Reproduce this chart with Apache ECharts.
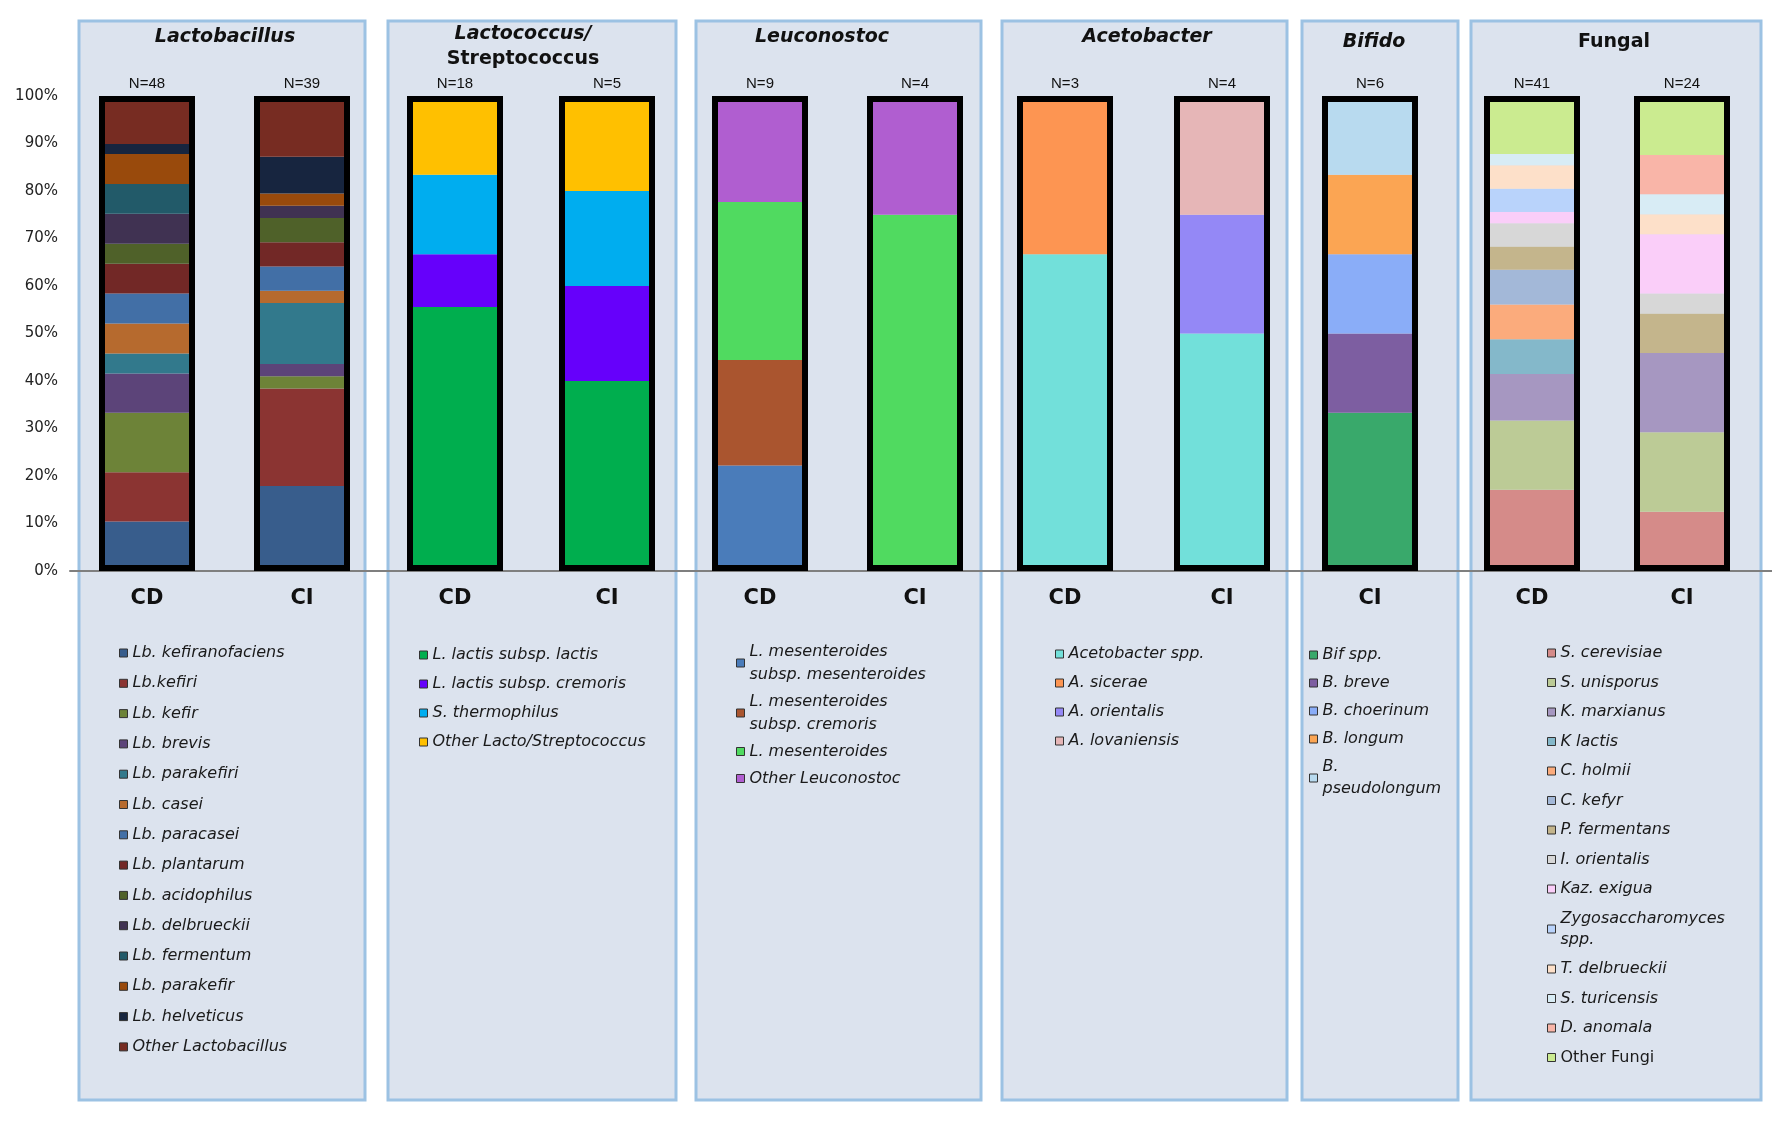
<!DOCTYPE html>
<html>
<head>
<meta charset="utf-8">
<title>Bacterial and fungal composition</title>
<script src="https://cdn.jsdelivr.net/npm/echarts@6/dist/echarts.min.js"></script>
<style>
  html, body { margin: 0; padding: 0; background: #fff; }
  #main { width: 1772px; height: 1125px; }
</style>
</head>
<body>
<div id="main"></div>
<script>
// ---- data (percent of isolates per group) ----
const yTickStep = 10;
const barTotal = 100;

const lactoNames = ['Lb. kefiranofaciens', 'Lb.kefiri', 'Lb. kefir', 'Lb. brevis', 'Lb. parakefiri', 'Lb. casei',
  'Lb. paracasei', 'Lb. plantarum', 'Lb. acidophilus', 'Lb. delbrueckii', 'Lb. fermentum', 'Lb. parakefir',
  'Lb. helveticus', 'Other Lactobacillus'];
const lactoCD = [10.4, 10.4, 12.5, 8.3, 4.2, 6.3, 6.3, 6.3, 4.2, 6.3, 6.3, 6.3, 2.1, 10.4];
const lactoCI = [17.9, 20.5, 2.6, 2.6, 12.8, 2.6, 5.1, 5.1, 5.1, 2.6, 0, 2.6, 7.7, 12.8];
const lactoN = [48, 39];

const coccusNames = ['L. lactis subsp. lactis', 'L. lactis subsp. cremoris', 'S. thermophilus', 'Other Lacto/Streptococcus'];
const coccusCD = [55.6, 11.1, 16.7, 16.7];
const coccusCI = [40, 20, 20, 20];
const coccusN = [18, 5];

const leucoNames = ['L. mesenteroides subsp. mesenteroides', 'L. mesenteroides subsp. cremoris', 'L. mesenteroides', 'Other Leuconostoc'];
const leucoCD = [22.2, 22.2, 33.3, 22.2];
const leucoCI = [0, 0, 75, 25];
const leucoN = [9, 4];

const acetoNames = ['Acetobacter spp.', 'A. sicerae', 'A. orientalis', 'A. lovaniensis'];
const acetoCD = [66.7, 33.3, 0, 0];
const acetoCI = [50, 0, 25, 25];
const acetoN = [3, 4];

const bifidoNames = ['Bif spp.', 'B. breve', 'B. choerinum', 'B. longum', 'B. pseudolongum'];
const bifidoCI = [33.3, 16.7, 16.7, 16.7, 16.7];
const bifidoN = [6];

const fungalNames = ['S. cerevisiae', 'S. unisporus', 'K. marxianus', 'K lactis', 'C. holmii', 'C. kefyr',
  'P. fermentans', 'I. orientalis', 'Kaz. exigua', 'Zygosaccharomyces spp.', 'T. delbrueckii',
  'S. turicensis', 'D. anomala', 'Other Fungi'];
const fungalCD = [17.1, 14.6, 9.8, 7.3, 7.3, 7.3, 4.9, 4.9, 2.4, 4.9, 4.9, 2.4, 0, 12.2];
const fungalCI = [12.5, 16.7, 16.7, 0, 0, 0, 8.3, 4.2, 12.5, 0, 4.2, 4.2, 8.3, 12.5];
const fungalN = [41, 24];

// ---- colours ----
const lactoColors = ['#385d8c', '#8b3432', '#6d8338', '#5c4479', '#32798c', '#b66a2e', '#426fa6', '#722826',
  '#4f6129', '#403252', '#225a69', '#994a0c', '#17253f', '#772c22'];
const coccusColors = ['#00ae4e', '#6600fb', '#00adef', '#ffc000'];
const leucoColors = ['#4a7cba', '#aa552f', '#50da60', '#b05ed0'];
const acetoColors = ['#72e0da', '#fd9552', '#9488f6', '#e6b6b7'];
const bifidoColors = ['#39a96b', '#7d5ea1', '#8aadf8', '#fba553', '#b8daef'];
const fungalColors = ['#d58b89', '#bccb96', '#a697c1', '#84b8ca', '#fbab7c', '#a3b8d8', '#c4b58c', '#d7d7d7',
  '#facef9', '#b9d3fb', '#fde0c9', '#d8ecf5', '#f9b5a8', '#cbeb90'];

// legend labels that wrap onto two lines
const wrapped = {
  'L. mesenteroides subsp. mesenteroides': 'L. mesenteroides\nsubsp. mesenteroides',
  'L. mesenteroides subsp. cremoris': 'L. mesenteroides\nsubsp. cremoris',
  'B. pseudolongum': 'B.\npseudolongum',
  'Zygosaccharomyces spp.': 'Zygosaccharomyces\nspp.'
};

// ---- layout ----
const plotTop = 96, plotH = 475;
const groups = [
  { key: 'lacto', title: '{i|Lactobacillus}', tx: 225, ty: 37, panel: [79, 365], grid: [69.5, 310],
    cats: ['CD', 'CI'], names: lactoNames, vals: [lactoCD, lactoCI], n: lactoN, colors: lactoColors,
    leg: { left: 119, top: 644, lh: 18, gap: 12.3 } },
  { key: 'coccus', title: '{i|Lactococcus/}\n{b|Streptococcus}', tx: 523, ty: 46.5, panel: [388, 676], grid: [379, 304],
    cats: ['CD', 'CI'], names: coccusNames, vals: [coccusCD, coccusCI], n: coccusN, colors: coccusColors,
    leg: { left: 419, top: 646, lh: 18, gap: 11 } },
  { key: 'leuco', title: '{i|Leuconostoc}', tx: 822, ty: 37, panel: [696, 981], grid: [682.5, 310],
    cats: ['CD', 'CI'], names: leucoNames, vals: [leucoCD, leucoCI], n: leucoN, colors: leucoColors,
    leg: { left: 736, top: 640, lh: 23, gap: 4 } },
  { key: 'aceto', title: '{i|Acetobacter}', tx: 1147, ty: 37, panel: [1002, 1287], grid: [986.5, 314],
    cats: ['CD', 'CI'], names: acetoNames, vals: [acetoCD, acetoCI], n: acetoN, colors: acetoColors,
    leg: { left: 1055, top: 645, lh: 18, gap: 11 } },
  { key: 'bifido', title: '{i|Bifido}', tx: 1374, ty: 42, panel: [1302, 1458], grid: [1322, 96],
    cats: ['CI'], names: bifidoNames, vals: [bifidoCI], n: bifidoN, colors: bifidoColors,
    leg: { left: 1309, top: 644, lh: 22, gap: 6 } },
  { key: 'fungal', title: '{b|Fungal}', tx: 1614, ty: 42, panel: [1471, 1761], grid: [1457, 300],
    cats: ['CD', 'CI'], names: fungalNames, vals: [fungalCD, fungalCI], n: fungalN, colors: fungalColors,
    leg: { left: 1547, top: 642.5, lh: 21, gap: 8.5 } }
];

const titleRich = {
  i: { fontFamily: 'DejaVu Sans', fontSize: 19, fontWeight: 'bold', fontStyle: 'italic', color: '#111', lineHeight: 25 },
  b: { fontFamily: 'DejaVu Sans', fontSize: 19, fontWeight: 'bold', fontStyle: 'normal', color: '#111', lineHeight: 25 }
};

const grids = [{ left: 70, right: 0, top: plotTop, height: plotH }];
const xAxes = [{
  gridIndex: 0, type: 'value', min: 0, max: 1, z: 1,
  axisLine: { show: true, lineStyle: { color: '#7f7f7f', width: 2 } },
  axisTick: { show: false }, axisLabel: { show: false }, splitLine: { show: false }
}];
const yAxes = [{
  gridIndex: 0, type: 'value', min: 0, max: barTotal, interval: yTickStep,
  axisLine: { show: false }, axisTick: { show: false }, splitLine: { show: false },
  axisLabel: { formatter: '{value}%', fontFamily: 'DejaVu Sans', fontSize: 15, color: '#222', margin: 12 }
}];
const series = [];
const legends = [];
const titles = [];
const panels = [];

groups.forEach((g, gi) => {
  const ax = gi + 1;
  grids.push({ left: g.grid[0], width: g.grid[1], top: plotTop, height: plotH });
  xAxes.push({
    gridIndex: ax, type: 'category', data: g.cats,
    axisLine: { show: false }, axisTick: { show: false },
    axisLabel: { fontFamily: 'DejaVu Sans', fontWeight: 'bold', fontSize: 21, color: '#111', margin: 17 }
  });
  yAxes.push({ gridIndex: ax, type: 'value', min: 0, max: barTotal, show: false });

  g.names.forEach((name, i) => {
    series.push({
      name: name, type: 'bar', stack: g.key, xAxisIndex: ax, yAxisIndex: ax,
      barWidth: 96, barGap: '-100%',
      data: g.vals.map(v => v[i]),
      itemStyle: { color: g.colors[i] },
      emphasis: { disabled: true }
    });
  });
  // black frame round each bar, carrying the N= label
  series.push({
    name: g.key + ' total', type: 'bar', xAxisIndex: ax, yAxisIndex: ax,
    barWidth: 96, barGap: '-100%', z: 3, silent: true,
    data: g.cats.map(() => barTotal),
    itemStyle: { color: 'rgba(0,0,0,0)', borderColor: '#000', borderWidth: 6 },
    label: {
      show: true, position: 'top', distance: 5,
      formatter: p => 'N=' + g.n[p.dataIndex],
      fontFamily: 'Liberation Sans', fontSize: 15, color: '#111'
    }
  });

  legends.push({
    orient: 'vertical', left: g.leg.left, top: g.leg.top, padding: 0,
    itemWidth: 8, itemHeight: 8, itemGap: g.leg.gap, icon: 'rect', selectedMode: false,
    data: g.names,
    itemStyle: { borderColor: '#333', borderWidth: 1 },
    formatter: name => name === 'Other Fungi' ? '{n|Other Fungi}' : (wrapped[name] || name),
    textStyle: {
      fontFamily: 'DejaVu Sans', fontSize: 16, fontStyle: 'italic', color: '#1a1a1a', lineHeight: g.leg.lh,
      rich: { n: { fontFamily: 'DejaVu Sans', fontSize: 16, fontStyle: 'normal', color: '#1a1a1a', lineHeight: g.leg.lh } }
    }
  });

  titles.push({
    text: g.title, left: g.tx, top: g.ty, padding: 0,
    textAlign: 'center', textVerticalAlign: 'middle',
    textStyle: { rich: titleRich }
  });

  panels.push({
    type: 'rect', z: -10, silent: true,
    shape: { x: g.panel[0], y: 21, width: g.panel[1] - g.panel[0], height: 1079 },
    style: { fill: '#dce3ee', stroke: '#9cc2e3', lineWidth: 3 }
  });
});

const chart = echarts.init(document.getElementById('main'));
chart.setOption({
  backgroundColor: '#ffffff',
  animation: false,
  title: titles,
  graphic: panels,
  grid: grids,
  xAxis: xAxes,
  yAxis: yAxes,
  legend: legends,
  tooltip: { show: false },
  series: series
});
</script>
</body>
</html>
